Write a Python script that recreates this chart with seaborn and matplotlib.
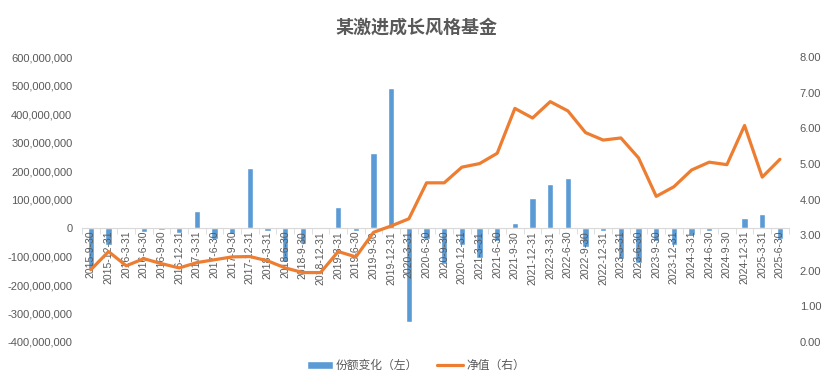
import numpy as np
import pandas as pd
import matplotlib.pyplot as plt
import seaborn as sns
from matplotlib.ticker import FuncFormatter, MultipleLocator
from matplotlib.lines import Line2D
from matplotlib.patches import Patch


### Data

dates = ['2015-9-30', '2015-12-31', '2016-3-31', '2016-6-30', '2016-9-30', '2016-12-31',
         '2017-3-31', '2017-6-30', '2017-9-30', '2017-12-31', '2018-3-31', '2018-6-30',
         '2018-9-30', '2018-12-31', '2019-3-31', '2019-6-30', '2019-9-30', '2019-12-31',
         '2020-3-31', '2020-6-30', '2020-9-30', '2020-12-31', '2021-3-31', '2021-6-30',
         '2021-9-30', '2021-12-31', '2022-3-31', '2022-6-30', '2022-9-30', '2022-12-31',
         '2023-3-31', '2023-6-30', '2023-9-30', '2023-12-31', '2024-3-31', '2024-6-30',
         '2024-9-30', '2024-12-31', '2025-3-31', '2025-6-30']

# share change (left axis), in shares
share_change = [-145e6, -60e6, 0, -15e6, -8e6, -18e6,
                60e6, -40e6, -20e6, 211e6, -12e6, -120e6,
                -55e6, 5e6, 73e6, -12e6, 262e6, 490e6,
                -330e6, -40e6, -125e6, -60e6, -105e6, -45e6,
                19e6, 107e6, 153e6, 175e6, -65e6, -12e6,
                -108e6, -123e6, -45e6, -60e6, -25e6, -10e6,
                0, 34e6, 51e6, -40e6]

# net value (right axis)
nav = [2.03, 2.54, 2.14, 2.34, 2.20, 2.08,
       2.23, 2.31, 2.39, 2.40, 2.28, 2.08,
       1.95, 1.95, 2.54, 2.39, 3.08, 3.26,
       3.46, 4.47, 4.47, 4.91, 5.01, 5.30,
       6.56, 6.29, 6.75, 6.49, 5.88, 5.67,
       5.73, 5.17, 4.09, 4.36, 4.83, 5.05,
       4.98, 6.08, 4.63, 5.13]

title = '某激进成长风格基金'
bar_label = '份额变化（左）'
line_label = '净值（右）'

BLUE = '#5B9BD5'
ORANGE = '#ED7D31'
TEXT = '#595959'
AXIS = '#D9D9D9'


sns.set_style('white')
plt.rcParams['font.family'] = ['Liberation Sans', 'Noto Sans CJK SC', 'DejaVu Sans']

df = pd.DataFrame({'date': dates, 'change': share_change, 'nav': nav})
n = len(df)

fig, ax = plt.subplots(figsize=(8.32, 3.86), dpi=100)
fig.subplots_adjust(left=0.0986, right=0.948, top=0.852, bottom=0.114)

sns.barplot(data=df, x='date', y='change', color=BLUE, saturation=1,
            width=0.35, ax=ax)

ax2 = ax.twinx()
sns.lineplot(x=df.index, y=df['nav'], color=ORANGE, lw=2.3, sort=False, ax=ax2)

## Left axis
ax.set_ylim(-4e8, 6e8)
ax.yaxis.set_major_locator(MultipleLocator(1e8))
ax.yaxis.set_major_formatter(FuncFormatter(lambda v, p: f'{v:,.0f}'))
ax.tick_params(axis='y', length=0, pad=7, labelsize=8, labelcolor=TEXT)

## Category axis sitting on the zero line, labels drawn over the bars
ax.set_axisbelow(False)
ax.set_xlim(-0.5, n - 0.5)
ax.spines[['top', 'right', 'left']].set_visible(False)
ax.spines['bottom'].set_position(('data', 0))
ax.spines['bottom'].set_color(AXIS)
ax.set_xticks(np.arange(-0.5, n, 1), minor=True)
ax.tick_params(axis='x', which='major', length=0, pad=2, labelsize=7.5,
               labelcolor=TEXT, rotation=90)
ax.tick_params(axis='x', which='minor', length=4, color=AXIS, bottom=True)
ax.set_xlabel('')
ax.set_ylabel('')

## Right axis
ax2.set_ylim(0, 8)
ax2.yaxis.set_major_locator(MultipleLocator(1))
ax2.yaxis.set_major_formatter(FuncFormatter(lambda v, p: f'{v:.2f}'))
ax2.tick_params(axis='y', length=0, pad=8, labelsize=8, labelcolor=TEXT)
for s in ax2.spines.values():
    s.set_visible(False)
ax2.set_ylabel('')
ax2.set_xlabel('')
ax.set_xlim(-0.5, n - 0.5)

fig.text(0.5, 1 - 27 / 386, title, ha='center', va='center', fontsize=13,
         fontweight='bold', color=TEXT, family=['Noto Sans CJK SC'])

handles = [Patch(facecolor=BLUE, label=bar_label),
           Line2D([], [], color=ORANGE, lw=2.3, label=line_label)]
leg = fig.legend(handles=handles, loc='center', bbox_to_anchor=(0.5, 0.052),
                 ncol=2, frameon=False, fontsize=8.5, handlelength=2.2,
                 handleheight=0.6, handletextpad=0.3, columnspacing=1.6)
for t in leg.get_texts():
    t.set_color(TEXT)

plt.savefig('out.png', dpi=100, facecolor='white')
